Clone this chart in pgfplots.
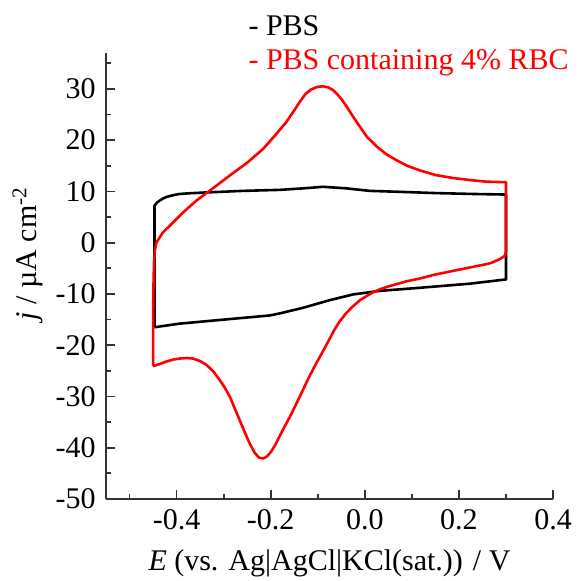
\documentclass[border=0pt]{standalone}
\usepackage{fontspec}
\setmainfont{Liberation Serif}
\usepackage{pgfplots}
\pgfplotsset{compat=1.18}

\begin{document}
\fontsize{15}{18}\selectfont
\begin{tikzpicture}
\useasboundingbox (-53pt,-41pt) rectangle (235.5pt,249.5pt);
\begin{axis}[
    at={(0,0)}, anchor=south west,
    scale only axis,
    width=223.5pt, height=223pt,
    axis lines*=left,
    axis line style={line width=1pt, black!80},
    xmin=-0.55, xmax=0.4,
    ymin=-50, ymax=37,
    xtick={-0.4,-0.2,0,0.2,0.4},
    minor xtick={-0.5,-0.3,-0.1,0.1,0.3},
    ytick={-50,-40,-30,-20,-10,0,10,20,30},
    minor ytick={-45,-35,-25,-15,-5,5,15,25,35},
    tick align=inside,
    major tick length=4.5pt, minor tick length=2.5pt,
    every tick/.style={black!80, line width=0.9pt},
    tick label style={font=\fontsize{15}{18}\selectfont},
    x tick label style={/pgf/number format/.cd, fixed, fixed zerofill, precision=1, assume math mode=true, /tikz/.cd},
    y tick label style={/pgf/number format/assume math mode=true},
    xlabel={\textit{E} (vs. Ag|AgCl|KCl(sat.)) / V},
    ylabel={\textit{j} / µA cm\textsuperscript{-2}},
    label style={font=\fontsize{15}{18}\selectfont},
    ylabel style={at={(axis description cs:-0.175,0.55)}, anchor=center},
    clip=false,
]
% PBS
\addplot[black, line width=1.3pt, line join=round] coordinates {
(-0.447,-16.5) (-0.447,0) (-0.447,7.2) (-0.442,7.8) (-0.436,8.2) (-0.429,8.6)
(-0.422,8.9) (-0.410,9.2) (-0.394,9.5) (-0.370,9.65)
(-0.337,9.8) (-0.260,10.1) (-0.181,10.3) (-0.130,10.6) (-0.089,10.9) (-0.040,10.6)
(0.011,10.1) (0.080,9.9) (0.152,9.67) (0.230,9.5) (0.294,9.4) (0.300,9.4)
(0.300,-7.2) (0.297,-7.2) (0.223,-8.0) (0.117,-8.8) (0.032,-9.4) (-0.025,-10.1)
(-0.074,-11.2) (-0.131,-12.7) (-0.181,-13.8) (-0.202,-14.2) (-0.287,-14.9)
(-0.394,-15.8) (-0.447,-16.5)
};
% PBS + 4% RBC
\addplot[red, line width=1.3pt, line join=round] coordinates {
(-0.450,-24.1) (-0.450,-15) (-0.449,-8) (-0.448,-4) (-0.446,-1.5) (-0.443,0)
(-0.436,1.0) (-0.429,2.0) (-0.408,3.9) (-0.385,6.0) (-0.358,8.2) (-0.320,10.8)
(-0.287,13.1) (-0.250,15.6) (-0.216,18.3) (-0.190,21.0) (-0.167,23.5) (-0.150,25.8)
(-0.138,27.5) (-0.126,29.0) (-0.114,29.9) (-0.100,30.4) (-0.089,30.5) (-0.078,30.3)
(-0.068,29.8) (-0.058,28.9) (-0.048,27.8) (-0.039,26.6) (-0.025,24.6) (-0.011,22.7)
(0.005,20.6) (0.025,18.8) (0.045,17.3) (0.067,16.1) (0.090,15.0) (0.117,14.1)
(0.150,13.2) (0.188,12.6) (0.225,12.2) (0.258,11.9) (0.297,11.8) (0.300,11.8)
(0.300,5) (0.300,-1.9) (0.297,-2.6) (0.287,-3.2) (0.270,-3.9) (0.258,-4.2)
(0.220,-4.9) (0.188,-5.5) (0.150,-6.2) (0.117,-7.0) (0.090,-7.5) (0.067,-8.1)
(0.048,-8.6) (0.032,-9.1) (0.017,-9.7) (0.004,-10.4) (-0.010,-11.2) (-0.025,-12.4)
(-0.040,-13.8) (-0.053,-15.3) (-0.064,-16.9) (-0.083,-20.2) (-0.103,-23.5)
(-0.120,-26.5) (-0.138,-30.0) (-0.156,-33.4) (-0.174,-36.5) (-0.190,-39.4)
(-0.200,-40.9) (-0.208,-41.7) (-0.216,-42.1) (-0.225,-41.9) (-0.234,-41.0)
(-0.245,-39.1) (-0.255,-37.0) (-0.266,-34.6) (-0.277,-32.2) (-0.287,-30.0)
(-0.298,-28.2) (-0.309,-26.7) (-0.322,-25.1) (-0.337,-23.8) (-0.350,-23.1)
(-0.365,-22.6) (-0.379,-22.5) (-0.393,-22.6) (-0.407,-22.8) (-0.422,-23.2)
(-0.437,-23.7) (-0.450,-24.1)
};
\node[anchor=base west, inner sep=0pt, text=black] at (axis description cs:0.318,1.040) {- PBS};
\node[anchor=base west, inner sep=0pt, text=red] at (axis description cs:0.318,0.962) {- PBS containing 4\% RBC};
\end{axis}
\end{tikzpicture}
\end{document}
